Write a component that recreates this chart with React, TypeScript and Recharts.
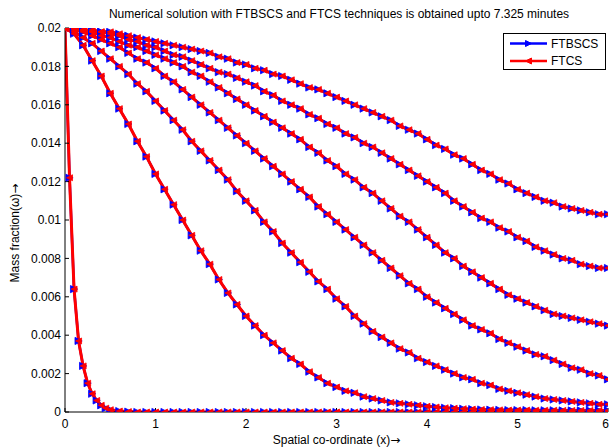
import React from 'react';
import { LineChart, Line, XAxis, YAxis, Legend, Label } from 'recharts';

// spatial grid (x)
const X = [
  0.0, 0.1, 0.2, 0.3, 0.4, 0.5, 0.6, 0.7, 0.8, 0.9,
  1.0, 1.1, 1.2, 1.3, 1.4, 1.5, 1.6, 1.7, 1.8, 1.9,
  2.0, 2.1, 2.2, 2.3, 2.4, 2.5, 2.6, 2.7, 2.8, 2.9,
  3.0, 3.1, 3.2, 3.3, 3.4, 3.5, 3.6, 3.7, 3.8, 3.9,
  4.0, 4.1, 4.2, 4.3, 4.4, 4.5, 4.6, 4.7, 4.8, 4.9,
  5.0, 5.1, 5.2, 5.3, 5.4, 5.5, 5.6, 5.7, 5.8, 5.9,
  6.0,
];

// finer grid for the earliest profile
const X_G = [
  0.0, 0.05, 0.1, 0.15, 0.2, 0.25, 0.3, 0.35, 0.4, 0.45,
  0.5, 0.6, 0.7, 0.8, 0.9,
  1.0, 1.1, 1.2, 1.3, 1.4, 1.5, 1.6, 1.7, 1.8, 1.9,
  2.0, 2.1, 2.2, 2.3, 2.4, 2.5, 2.6, 2.7, 2.8, 2.9,
  3.0, 3.1, 3.2, 3.3, 3.4, 3.5, 3.6, 3.7, 3.8, 3.9,
  4.0, 4.1, 4.2, 4.3, 4.4, 4.5, 4.6, 4.7, 4.8, 4.9,
  5.0, 5.1, 5.2, 5.3, 5.4, 5.5, 5.6, 5.7, 5.8, 5.9,
  6.0,
];

const profileA = [
  0.0200, 0.0200, 0.0199, 0.0199, 0.0198, 0.0198, 0.0197, 0.0196, 0.0195, 0.0194,
  0.0193, 0.0192, 0.0191, 0.0190, 0.0189, 0.0188, 0.0187, 0.0185, 0.0184, 0.0182,
  0.0181, 0.0179, 0.0178, 0.0176, 0.0175, 0.0173, 0.0171, 0.0169, 0.0168, 0.0166,
  0.0164, 0.0162, 0.0160, 0.0158, 0.0156, 0.0154, 0.0152, 0.0149, 0.0147, 0.0145,
  0.0142, 0.0139, 0.0137, 0.0134, 0.0132, 0.0129, 0.0126, 0.0124, 0.0121, 0.0119,
  0.0116, 0.0114, 0.0112, 0.0110, 0.0109, 0.0107, 0.0106, 0.0105, 0.0104, 0.0103,
  0.0103,
];

const profileB = [
  0.0200, 0.0200, 0.0199, 0.0198, 0.0198, 0.0197, 0.0196, 0.0194, 0.0193, 0.0191,
  0.0190, 0.0188, 0.0186, 0.0185, 0.0183, 0.0181, 0.0179, 0.0177, 0.0176, 0.0174,
  0.0172, 0.0170, 0.0167, 0.0165, 0.0162, 0.0160, 0.0158, 0.0155, 0.0153, 0.0150,
  0.0148, 0.0145, 0.0143, 0.0140, 0.0138, 0.0135, 0.0132, 0.0129, 0.0126, 0.0123,
  0.0120, 0.0117, 0.0114, 0.0110, 0.0107, 0.0104, 0.0101, 0.0099, 0.0096, 0.0094,
  0.0091, 0.0089, 0.0086, 0.0084, 0.0082, 0.0080, 0.0079, 0.0077, 0.0076, 0.0075,
  0.0075,
];

const profileC = [
  0.0200, 0.0200, 0.0199, 0.0198, 0.0196, 0.0195, 0.0193, 0.0191, 0.0190, 0.0188,
  0.0186, 0.0184, 0.0182, 0.0180, 0.0177, 0.0175, 0.0172, 0.0169, 0.0166, 0.0163,
  0.0160, 0.0157, 0.0154, 0.0151, 0.0148, 0.0145, 0.0142, 0.0138, 0.0135, 0.0131,
  0.0128, 0.0124, 0.0121, 0.0117, 0.0114, 0.0110, 0.0106, 0.0102, 0.0099, 0.0095,
  0.0091, 0.0087, 0.0083, 0.0080, 0.0076, 0.0073, 0.0070, 0.0067, 0.0064, 0.0061,
  0.0059, 0.0057, 0.0055, 0.0053, 0.0051, 0.0050, 0.0049, 0.0048, 0.0047, 0.0046,
  0.0045,
];

const profileD = [
  0.0200, 0.0199, 0.0198, 0.0196, 0.0194, 0.0192, 0.0190, 0.0187, 0.0184, 0.0182,
  0.0179, 0.0175, 0.0172, 0.0168, 0.0164, 0.0160, 0.0156, 0.0152, 0.0148, 0.0144,
  0.0140, 0.0136, 0.0132, 0.0128, 0.0124, 0.0120, 0.0116, 0.0112, 0.0107, 0.0103,
  0.0099, 0.0095, 0.0091, 0.0087, 0.0083, 0.0079, 0.0075, 0.0071, 0.0067, 0.0064,
  0.0060, 0.0057, 0.0054, 0.0051, 0.0048, 0.0045, 0.0043, 0.0041, 0.0038, 0.0036,
  0.0034, 0.0032, 0.0030, 0.0029, 0.0027, 0.0025, 0.0023, 0.0022, 0.0020, 0.0019,
  0.0017,
];

const profileE = [
  0.0200, 0.0198, 0.0195, 0.0192, 0.0188, 0.0184, 0.0180, 0.0176, 0.0171, 0.0167,
  0.0162, 0.0157, 0.0152, 0.0147, 0.0141, 0.0136, 0.0131, 0.0126, 0.0121, 0.0115,
  0.0110, 0.0105, 0.0099, 0.0094, 0.0088, 0.0083, 0.0078, 0.0073, 0.0068, 0.0064,
  0.0059, 0.0055, 0.0050, 0.0046, 0.0042, 0.0039, 0.0036, 0.0033, 0.0031, 0.0028,
  0.0026, 0.0024, 0.0022, 0.0020, 0.0018, 0.0017, 0.0015, 0.0014, 0.0012, 0.0011,
  0.0010, 0.0009, 0.0008, 0.0007, 0.00065, 0.0006, 0.00055, 0.0005, 0.00045, 0.0004,
  0.0004,
];

const profileF = [
  0.0200, 0.0197, 0.0191, 0.0183, 0.0175, 0.0166, 0.0158, 0.0150, 0.0141, 0.0133,
  0.0124, 0.0116, 0.0108, 0.0100, 0.0092, 0.0084, 0.0077, 0.0069, 0.0062, 0.0056,
  0.0050, 0.0045, 0.0040, 0.0036, 0.0032, 0.0028, 0.0025, 0.0021, 0.0018, 0.0015,
  0.0013, 0.0011, 0.0010, 0.0008, 0.0007, 0.0006, 0.0005, 0.00045, 0.0004, 0.00035,
  0.0003, 0.00026, 0.00022, 0.0002, 0.00017, 0.00015, 0.00013, 0.00012, 0.00011, 0.0001,
  0.0001, 0.0001, 0.00009, 0.00009, 0.00009, 0.00008, 0.00008, 0.00008, 0.00008, 0.00008,
  0.00008,
];

const profileG = [
  0.0200, 0.0122, 0.0064, 0.0037, 0.0024, 0.0015, 0.00095, 0.0006, 0.00035, 0.0002,
  0.00012, 0.00005, 0.00002, 0, 0,
  0, 0, 0, 0, 0, 0, 0, 0, 0, 0,
  0, 0, 0, 0, 0, 0, 0, 0, 0, 0,
  0, 0, 0, 0, 0, 0, 0, 0, 0, 0,
  0, 0, 0, 0, 0, 0, 0, 0, 0, 0,
  0, 0, 0, 0, 0, 0, 0, 0, 0, 0,
  0,
];

const PROFILES = [
  { id: 'A', xs: X, ys: profileA },
  { id: 'B', xs: X, ys: profileB },
  { id: 'C', xs: X, ys: profileC },
  { id: 'D', xs: X, ys: profileD },
  { id: 'E', xs: X, ys: profileE },
  { id: 'F', xs: X, ys: profileF },
  { id: 'G', xs: X_G, ys: profileG },
];

const X_TICKS = [0, 1, 2, 3, 4, 5, 6];
const X_TICK_LABELS = ['0', '1', '2', '3', '4', '5', '6'];
const Y_TICKS = [0, 0.002, 0.004, 0.006, 0.008, 0.01, 0.012, 0.014, 0.016, 0.018, 0.02];
const Y_TICK_LABELS = ['0', '0.002', '0.004', '0.006', '0.008', '0.01', '0.012', '0.014', '0.016', '0.018', '0.02'];

const TITLE = 'Numerical solution with FTBSCS and FTCS techniques is obtained upto 7.325 minutes';
const X_LABEL = 'Spatial co-ordinate (x)';
const Y_LABEL = 'Mass fraction(\u03c9)';
const ARROW = '\u2192';

const BLUE = '#0000ff';
const RED = '#ff0000';
const FONT = '"Liberation Sans", Arial, Helvetica, sans-serif';
const ARROW_FONT = '"DejaVu Sans", sans-serif';

const LEGEND_ITEMS = [
  { label: 'FTBSCS', color: BLUE, dir: 1 },
  { label: 'FTCS', color: RED, dir: -1 },
];

const toPoints = (xs: number[], ys: number[]) => xs.map((x, i) => ({ x, y: ys[i] }));

const triPath = (cx: number, cy: number, s: number, dir: number) =>
  dir > 0
    ? `M${cx - s},${cy - s}L${cx + s},${cy}L${cx - s},${cy + s}Z`
    : `M${cx + s},${cy - s}L${cx - s},${cy}L${cx + s},${cy + s}Z`;

const makeDot = (color: string, dir: number, s: number) => (props: any) => {
  const { cx, cy, index } = props;
  if (cx == null || cy == null || isNaN(cx) || isNaN(cy)) return <g key={`d-${index}`} />;
  return <path key={`d-${index}`} d={triPath(cx, cy, s, dir)} fill={color} stroke={color} strokeWidth={0.8} />;
};

const blueDot = makeDot(BLUE, 1, 3.6);
const redDot = makeDot(RED, -1, 3.0);

const XTick = (props: any) => {
  const { x, y, payload, index } = props;
  const last = index === X_TICKS.length - 1;
  return (
    <text
      x={last ? 609 : x}
      y={y}
      dy="0.71em"
      textAnchor={last ? 'end' : 'middle'}
      fontSize={12}
      fontFamily={FONT}
      fill="#000"
    >
      {X_TICK_LABELS[index] ?? String(payload.value)}
    </text>
  );
};

const renderLegend = () => (
  <svg width={103} height={37} style={{ display: 'block' }}>
    <rect x={0.5} y={0.5} width={102} height={36} fill="#fff" stroke="#000" strokeWidth={1} />
    {LEGEND_ITEMS.map((it, i) => {
      const y = 10.5 + i * 17.5;
      return (
        <g key={it.label}>
          <line x1={7} x2={44} y1={y} y2={y} stroke={it.color} strokeWidth={2.5} />
          <path d={triPath(25.5, y, 3, it.dir)} fill={it.color} stroke={it.color} />
          <text x={48} y={y + 4.3} fontSize={12} fontFamily={FONT} fill="#000">
            {it.label}
          </text>
        </g>
      );
    })}
  </svg>
);

export default function App() {
  return (
    <div style={{ position: 'absolute', left: 0, top: 0, width: 609, height: 447, background: '#fff', fontFamily: FONT }}>
      <LineChart width={609} height={447} margin={{ top: 28, right: 1, bottom: 0, left: 0 }}>
        <XAxis
          xAxisId="b"
          dataKey="x"
          type="number"
          orientation="bottom"
          domain={[0, 6]}
          ticks={X_TICKS}
          interval={0}
          allowDataOverflow
          height={35}
          tickSize={-4}
          tickMargin={11}
          axisLine={{ stroke: '#000' }}
          tickLine={{ stroke: '#000' }}
          tick={<XTick />}
        >
          <Label
            content={(p: any) => {
              const vb = p.viewBox || {};
              return (
                <text x={vb.x + vb.width / 2} y={vb.y + 32} textAnchor="middle" fontSize={12} fontFamily={FONT} fill="#000">
                  {X_LABEL}
                  <tspan fontFamily={ARROW_FONT} fontSize={12}>{ARROW}</tspan>
                </text>
              );
            }}
          />
        </XAxis>
        <XAxis
          xAxisId="t"
          dataKey="x"
          type="number"
          orientation="top"
          domain={[0, 6]}
          ticks={X_TICKS}
          interval={0}
          allowDataOverflow
          height={0}
          tickSize={-4}
          tick={false}
          axisLine={{ stroke: '#000' }}
          tickLine={{ stroke: '#000' }}
        />
        <YAxis
          yAxisId="l"
          type="number"
          orientation="left"
          domain={[0, 0.02]}
          ticks={Y_TICKS}
          interval={0}
          allowDataOverflow
          width={65}
          tickSize={-4}
          tickMargin={8}
          tickFormatter={(v: number, i: number) => Y_TICK_LABELS[i]}
          axisLine={{ stroke: '#000' }}
          tickLine={{ stroke: '#000' }}
          tick={{ fill: '#000', fontSize: 12, fontFamily: FONT }}
        >
          <Label
            content={() => (
              <g>
                <text x={19} y={233} transform="rotate(-90 19 233)" textAnchor="middle" fontSize={12} fontFamily={FONT} fill="#000">
                  {Y_LABEL}
                  <tspan fontFamily={ARROW_FONT} fontSize={12}>{ARROW}</tspan>
                </text>
                <text x={339} y={18} textAnchor="middle" fontSize={12} fontFamily={FONT} fill="#000">
                  {TITLE}
                </text>
              </g>
            )}
          />
        </YAxis>
        <YAxis
          yAxisId="r"
          type="number"
          orientation="right"
          domain={[0, 0.02]}
          ticks={Y_TICKS}
          interval={0}
          allowDataOverflow
          width={0}
          tickSize={-4}
          tick={false}
          axisLine={{ stroke: '#000' }}
          tickLine={{ stroke: '#000' }}
        />
        {PROFILES.map((p) => (
          <Line
            key={`ftbscs-${p.id}`}
            data={toPoints(p.xs, p.ys)}
            dataKey="y"
            xAxisId="b"
            yAxisId="l"
            type="linear"
            stroke={BLUE}
            strokeWidth={2.5}
            dot={blueDot}
            activeDot={false}
            legendType="none"
            isAnimationActive={false}
          />
        ))}
        {PROFILES.map((p) => (
          <Line
            key={`ftcs-${p.id}`}
            data={toPoints(p.xs, p.ys)}
            dataKey="y"
            xAxisId="b"
            yAxisId="l"
            type="linear"
            stroke={RED}
            strokeWidth={3}
            dot={redDot}
            activeDot={false}
            legendType="none"
            isAnimationActive={false}
          />
        ))}
        <Legend
          layout="vertical"
          align="center"
          verticalAlign="middle"
          content={renderLegend}
          wrapperStyle={{ left: 503, top: 33, width: 103, height: 37 }}
        />
      </LineChart>
    </div>
  );
}
